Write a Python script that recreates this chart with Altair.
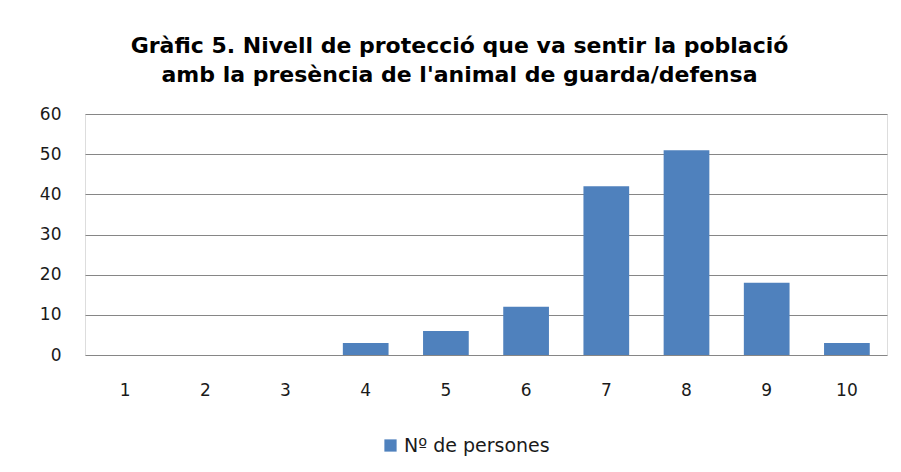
import altair as alt
import pandas as pd

categories = ["1", "2", "3", "4", "5", "6", "7", "8", "9", "10"]
values = [0, 0, 0, 3, 6, 12, 42, 51, 18, 3]
series_name = "Nº de persones"
title_lines = [
    "Gràfic 5. Nivell de protecció que va sentir la població",
    "amb la presència de l'animal de guarda/defensa",
]
y_ticks = [0, 10, 20, 30, 40, 50, 60]

df = pd.DataFrame({
    "cat": categories,
    "val": values,
    "series": [series_name] * len(categories),
})

label_font = "DejaVu Sans"
text_color = "#1a1a1a"

chart = alt.Chart(df).mark_bar(strokeWidth=0).encode(
    x=alt.X(
        "cat:N", sort=categories, title=None,
        scale=alt.Scale(paddingInner=0.43, paddingOuter=0.215),
        axis=alt.Axis(labelAngle=0, domain=False, ticks=False, grid=False,
                      labelPadding=27, labelFontSize=17, labelFont=label_font,
                      labelColor=text_color),
    ),
    y=alt.Y(
        "val:Q", title=None,
        scale=alt.Scale(domain=[0, 60], nice=False),
        axis=alt.Axis(values=y_ticks, domain=False, ticks=False, labelPadding=24,
                      minExtent=77, maxExtent=77, labelFontSize=17,
                      labelFont=label_font, labelColor=text_color,
                      gridColor="#868686", gridWidth=1, gridOpacity=1),
    ),
    color=alt.Color(
        "series:N",
        scale=alt.Scale(range=["#4F81BD"]),
        legend=alt.Legend(orient="none", legendX=296, legendY=322, title=None,
                          symbolType="square", symbolSize=150, symbolStrokeWidth=0,
                          labelFontSize=19, labelFont=label_font,
                          labelColor=text_color, direction="horizontal"),
    ),
).properties(
    width=802,
    height=241,
    padding={"left": 0, "top": 27, "right": 6, "bottom": 0},
    title=alt.Title(
        title_lines, anchor="middle", frame="bounds", dx=12,
        font="DejaVu Sans", fontSize=22, fontWeight="bold", lineHeight=29,
        color="#000000", offset=18,
    ),
).configure_view(stroke=None).configure(background="white")

chart.save("out.html", embed_options={"renderer": "svg", "actions": False})
